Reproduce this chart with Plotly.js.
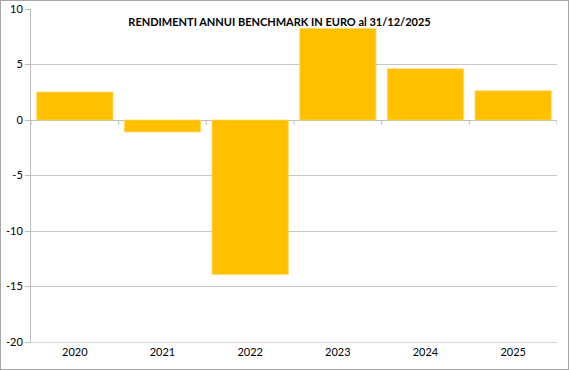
<!DOCTYPE html>
<html>
<head>
<meta charset="utf-8">
<script src="https://cdn.plot.ly/plotly-3.0.1.min.js"></script>
<style>
  html, body { margin: 0; padding: 0; background: #fff; }
  #wrap { position: relative; width: 569px; height: 370px; }
  #chart { width: 569px; height: 370px; }
  #frame { position: absolute; left: 0; top: 0; width: 567px; height: 368px; border: 1px solid #a6a6a6; pointer-events: none; }
</style>
</head>
<body>
<div id="wrap">
  <div id="chart"></div>
  <div id="frame"></div>
</div>
<script>
const years = ['2020', '2021', '2022', '2023', '2024', '2025'];
const returns = [2.52, -1.08, -13.91, 8.25, 4.61, 2.63];
const yTicks = [-20, -15, -10, -5, 0, 5, 10];
const chartTitle = 'RENDIMENTI ANNUI BENCHMARK IN EURO al 31/12/2025';

const font = 'Lato, "Open Sans", sans-serif';

const trace = {
  type: 'bar',
  x: years,
  y: returns,
  marker: { color: '#FFC000', line: { color: '#FFD966', width: 0.8 } },
  width: 0.87,
  hoverinfo: 'x+y'
};

// tick marks on the zero line between categories
const shapes = [];
for (let i = 0; i <= years.length; i++) {
  shapes.push({
    type: 'line', xref: 'x', yref: 'y',
    ysizemode: 'pixel', yanchor: 0,
    x0: i - 0.5, x1: i - 0.5, y0: 0, y1: -5,
    line: { color: '#bfbfbf', width: 1 }
  });
}

const layout = {
  width: 569, height: 370,
  margin: { l: 31, r: 12, t: 9, b: 28 },
  paper_bgcolor: '#ffffff', plot_bgcolor: '#ffffff',
  font: { family: font, size: 11, color: '#000' },
  title: {
    text: '<b>' + chartTitle + '</b>',
    font: { family: font, size: 11, color: '#000' },
    x: 0.4725, xref: 'paper', xanchor: 'center',
    y: 0.94, yref: 'container', yanchor: 'middle'
  },
  showlegend: false,
  bargap: 0.13,
  xaxis: {
    type: 'category',
    showgrid: false, zeroline: false,
    showline: true, linecolor: '#d9d9d9', linewidth: 1,
    ticks: '', tickfont: { family: font, size: 11, color: '#000' },
    range: [-0.5, 5.5], fixedrange: true
  },
  yaxis: {
    range: [-20, 10], tickvals: yTicks, ticktext: yTicks.map(String),
    showgrid: true, gridcolor: '#c8c8c8', gridwidth: 1,
    zeroline: true, zerolinecolor: '#bfbfbf', zerolinewidth: 1,
    showline: true, linecolor: '#bfbfbf', linewidth: 1,
    ticks: 'outside', ticklen: 5, tickcolor: '#bfbfbf',
    tickfont: { family: font, size: 11, color: '#000' },
    fixedrange: true
  },
  shapes: shapes
};

Plotly.newPlot('chart', [trace], layout, { displayModeBar: false, staticPlot: true });
</script>
</body>
</html>
